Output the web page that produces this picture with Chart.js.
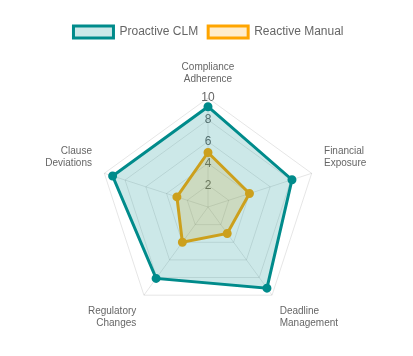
<!DOCTYPE html>
<html>
<head>
<meta charset="utf-8">
<script src="https://cdn.jsdelivr.net/npm/chart.js@4/dist/chart.umd.min.js"></script>
<style>
html,body{margin:0;padding:0;background:#fff;}
#wrap{width:413px;height:356px;position:relative;}
</style>
</head>
<body>
<div id="wrap"><canvas id="c"></canvas></div>
<script>
const categories = [
  ["Compliance", "Adherence"],
  ["Financial", "Exposure"],
  ["Deadline", "Management"],
  ["Regulatory", "Changes"],
  ["Clause", "Deviations"]
];
const proactiveCLM = [9.2, 8.1, 9.2, 8.1, 9.2];
const reactiveManual = [5, 4, 3, 4, 3];
const tickValues = [0, 2, 4, 6, 8, 10];

new Chart(document.getElementById('c'), {
  type: 'radar',
  data: {
    labels: categories,
    datasets: [
      {
        label: 'Proactive CLM',
        data: proactiveCLM,
        borderColor: '#008B8B',
        backgroundColor: 'rgba(0,139,139,0.2)',
        pointBackgroundColor: '#008B8B',
        pointBorderColor: '#008B8B',
        borderWidth: 3,
        pointRadius: 3
      },
      {
        label: 'Reactive Manual',
        data: reactiveManual,
        borderColor: '#FFA500',
        backgroundColor: 'rgba(255,165,0,0.2)',
        pointBackgroundColor: '#FFA500',
        pointBorderColor: '#FFA500',
        borderWidth: 3,
        pointRadius: 3
      }
    ]
  },
  options: {
    responsive: true,
    maintainAspectRatio: false,
    animation: false,
    layout: { padding: { top: 16, bottom: 16, left: 18, right: 14 } },
    font: { family: 'Liberation Sans, Arial, sans-serif' },
    plugins: {
      legend: {
        position: 'top',
        labels: { color: '#666', font: { size: 12 }, boxWidth: 40, boxHeight: 12 }
      },
      tooltip: { enabled: false }
    },
    scales: {
      r: {
        min: 0,
        max: 10,
        afterBuildTicks: (axis) => { axis.ticks = tickValues.map(v => ({ value: v })); },
        ticks: {
          showLabelBackdrop: false,
          color: '#666',
          font: { size: 12 },
          callback: (v) => v === 0 ? '' : v
        },
        pointLabels: { color: '#666', font: { size: 10 } },
        grid: { color: 'rgba(0,0,0,0.1)' },
        angleLines: { color: 'rgba(0,0,0,0.1)' }
      }
    }
  }
});
</script>
</body>
</html>
